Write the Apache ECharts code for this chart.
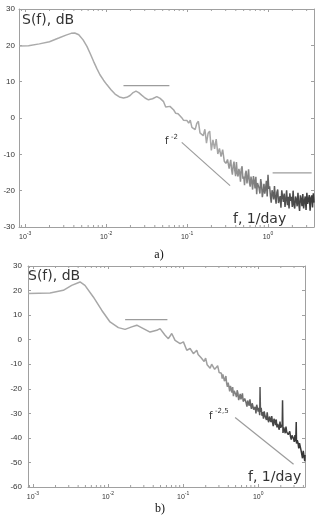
<!DOCTYPE html>
<html>
<head>
<meta charset="utf-8">
<script src="https://cdn.jsdelivr.net/npm/echarts@6/dist/echarts.min.js"></script>
<style>
  html, body { margin: 0; padding: 0; background: #fff; }
  #main { width: 324px; height: 519px; }
</style>
</head>
<body>
<div id="main"></div>
<script>
// spectrum a): [f (1/day), S (dB)]
const specA = [
  [0.00084, 19.8], [0.0011, 19.9], [0.0015, 20.4], [0.002, 21.0], [0.0026, 22.0], [0.0032, 22.8],
  [0.0037, 23.3], [0.0041, 23.4], [0.0046, 22.9], [0.0052, 21.5], [0.0058, 19.7], [0.0064, 17.6],
  [0.007, 15.6], [0.0077, 13.6], [0.0084, 11.9], [0.0093, 10.4], [0.0102, 9.2], [0.0115, 7.8],
  [0.0129, 6.6], [0.0146, 5.8], [0.0164, 5.5], [0.018, 5.7], [0.0198, 6.2], [0.0216, 7.0],
  [0.0234, 7.4], [0.0253, 7.0], [0.0275, 6.3], [0.0303, 5.5], [0.0333, 5.0], [0.0375, 5.3],
  [0.0423, 5.9], [0.0465, 5.4], [0.0513, 4.5], [0.0545, 3.0], [0.0575, 2.6], [0.0615, 3.2],
  [0.0646, 3.3], [0.0685, 2.2], [0.0725, 1.3], [0.0775, 1.2], [0.082, 1.0], [0.086, 0.1],
  [0.0902, -0.6], [0.095, -0.9],
  [0.1, -0.7], [0.1047, -1.4], [0.1096, -0.6], [0.1148, -2.6], [0.1202, -2.1], [0.1259, -3.2],
  [0.1318, -1.5], [0.138, -0.9], [0.1445, -4.1], [0.1514, -3.6], [0.1585, -4.9], [0.166, -3.1],
  [0.1738, -6.9], [0.182, -4.2], [0.1905, -3.6], [0.1995, -8.9], [0.2089, -6.0], [0.2188, -8.5],
  [0.2291, -5.8], [0.2399, -9.9], [0.2512, -8.4], [0.263, -10.6], [0.2754, -8.7], [0.2884, -11.9],
  [0.302, -12.5], [0.3162, -11.4],
  [0.3236, -11.7], [0.3311, -13.9], [0.3388, -12.6], [0.3467, -11.5], [0.3548, -14.2], [0.3631, -15.6],
  [0.3715, -13.2], [0.3802, -12.0], [0.389, -14.5], [0.3981, -16.0], [0.4074, -12.1], [0.4169, -15.2],
  [0.4266, -16.1], [0.4365, -14.0], [0.4467, -14.9], [0.4571, -17.5], [0.4677, -14.0], [0.4786, -13.3],
  [0.4898, -16.7], [0.5012, -16.1], [0.5129, -18.5], [0.5248, -15.4], [0.537, -14.5], [0.5495, -18.0],
  [0.5623, -16.5], [0.5754, -14.1], [0.5888, -17.7], [0.6026, -18.9], [0.6166, -16.1], [0.631, -17.5],
  [0.6457, -19.7], [0.6607, -16.0], [0.6761, -17.4], [0.6918, -19.4], [0.7079, -16.2], [0.7244, -21.0],
  [0.7413, -17.9], [0.7586, -17.4], [0.7762, -19.3], [0.7943, -20.8], [0.8128, -16.8], [0.8318, -18.3],
  [0.8511, -21.8], [0.871, -20.2], [0.8913, -18.1], [0.912, -20.8], [0.9333, -19.5], [0.955, -17.3],
  [0.9772, -21.6], [1.0, -15.6], [1.023, -19.5], [1.047, -18.8], [1.072, -21.5], [1.096, -23.3],
  [1.122, -19.9], [1.148, -20.8], [1.175, -22.4], [1.202, -18.7], [1.23, -21.8], [1.259, -23.6],
  [1.288, -20.4], [1.318, -19.7], [1.349, -23.4], [1.38, -22.4], [1.413, -21.5], [1.445, -24.7],
  [1.479, -19.9], [1.514, -21.6], [1.549, -23.1], [1.585, -20.8], [1.622, -24.5], [1.66, -22.4],
  [1.698, -19.9], [1.738, -24.0], [1.778, -21.7], [1.82, -24.9], [1.862, -20.7], [1.905, -22.8],
  [1.95, -21.7], [1.995, -24.5], [2.042, -20.0], [2.089, -23.9], [2.138, -24.9], [2.188, -21.6],
  [2.239, -22.5], [2.291, -24.3], [2.344, -20.6], [2.399, -23.6], [2.455, -25.6], [2.512, -21.3],
  [2.57, -22.3], [2.63, -24.3], [2.692, -20.9], [2.754, -24.9], [2.818, -22.8], [2.884, -21.6],
  [2.951, -25.3], [3.02, -20.6], [3.09, -23.6], [3.162, -24.0], [3.236, -21.2], [3.311, -25.5],
  [3.388, -22.0], [3.467, -21.3], [3.548, -24.6], [3.631, -20.7], [3.7, -23.3]
];

// spectrum b): [f (1/day), S (dB)]
const specB = [
  [0.00086, 18.8], [0.00169, 19.0], [0.00254, 20.1], [0.00328, 22.1], [0.00424, 23.5], [0.00493, 22.1],
  [0.00637, 17.4], [0.00824, 12.0], [0.01064, 7.2], [0.01374, 4.9], [0.01687, 4.2], [0.0207, 5.2],
  [0.02415, 5.9], [0.02958, 4.5], [0.03631, 3.1], [0.04457, 3.8], [0.04932, 4.5], [0.05754, 1.8],
  [0.06368, 0.4], [0.07063, 2.5], [0.07816, -0.3], [0.0912, -1.6], [0.1009, -0.9], [0.1119, -4.3],
  [0.1239, -3.6], [0.1371, -5.7], [0.152, -4.3],
  [0.1585, -6.0], [0.166, -5.3], [0.1738, -7.4], [0.182, -7.0], [0.1905, -8.9], [0.1995, -7.5],
  [0.2089, -10.2], [0.2188, -9.6], [0.2291, -11.6], [0.2399, -10.0], [0.2512, -10.8], [0.263, -12.1],
  [0.2754, -11.4], [0.2884, -10.6], [0.302, -13.4], [0.3162, -12.6],
  [0.3236, -13.7], [0.3311, -15.9], [0.3388, -14.1], [0.3467, -13.8], [0.3548, -16.9], [0.3631, -16.1],
  [0.3715, -14.8], [0.3802, -17.9], [0.389, -19.2], [0.3981, -17.5], [0.4074, -19.1], [0.4169, -21.1],
  [0.4266, -18.8], [0.4365, -20.0], [0.4467, -21.6], [0.4571, -19.3], [0.4677, -23.0], [0.4786, -20.8],
  [0.4898, -20.5], [0.5012, -22.2], [0.5129, -23.4], [0.5248, -20.6], [0.537, -21.8], [0.5495, -24.6],
  [0.5623, -23.5], [0.5754, -22.1], [0.5888, -24.3], [0.6026, -23.5], [0.6166, -21.9], [0.631, -25.2],
  [0.6457, -25.9], [0.6607, -24.0], [0.6761, -23.5], [0.6918, -25.8], [0.7079, -27.3], [0.7244, -24.8],
  [0.7413, -25.6], [0.7586, -26.9], [0.7762, -24.3], [0.7943, -26.7], [0.8128, -28.2], [0.8318, -25.9],
  [0.8511, -25.6], [0.871, -28.5], [0.8913, -27.9], [0.912, -27.4], [0.9333, -30.0], [0.955, -26.5],
  [0.9772, -27.9], [1.0, -29.3], [1.023, -27.8], [1.047, -30.8], [1.058, -19.3], [1.072, -29.4],
  [1.096, -27.8], [1.122, -31.0], [1.148, -29.5], [1.175, -32.2], [1.202, -29.2], [1.23, -31.0],
  [1.259, -30.3], [1.288, -32.7], [1.318, -29.6], [1.349, -32.6], [1.38, -33.6], [1.413, -31.3],
  [1.445, -32.1], [1.479, -33.6], [1.514, -31.1], [1.549, -33.6], [1.585, -35.2], [1.622, -32.2],
  [1.66, -33.1], [1.698, -34.8], [1.738, -32.5], [1.778, -35.7], [1.82, -34.3], [1.862, -33.7],
  [1.905, -36.7], [1.95, -33.4], [1.995, -35.9], [2.042, -36.4], [2.089, -34.5], [2.11, -24.7],
  [2.138, -38.0], [2.188, -35.7], [2.239, -35.4], [2.291, -38.1], [2.344, -35.4], [2.399, -37.6],
  [2.455, -36.9], [2.512, -38.7], [2.57, -37.9], [2.63, -37.3], [2.692, -39.5], [2.754, -40.7],
  [2.818, -39.0], [2.884, -38.3], [2.951, -40.3], [3.02, -41.6], [3.09, -38.9], [3.162, -41.4],
  [3.21, -33.5], [3.236, -42.3], [3.311, -40.9], [3.388, -42.0], [3.467, -44.3], [3.548, -42.1],
  [3.631, -42.0], [3.715, -45.0], [3.802, -44.9], [3.89, -48.3], [3.981, -45.3], [4.074, -44.9],
  [4.169, -49.5], [4.2, -47.0]
];

// reference segments
const flatA1 = [[0.0164, 8.9], [0.0605, 8.9]];
const flatA2 = [[1.14, -15.1], [3.46, -15.1]];
const slopeA = [[0.086, -6.7], [0.34, -18.6]];
const flatB = [[0.0169, 8.2], [0.0618, 8.2]];
const slopeB = [[0.493, -31.7], [2.96, -50.7]];

// axis ranges
const xRangeA = [0.00084, 3.7];
const xRangeB = [0.00086, 4.2];
const yRangeA = [-30, 30];
const yRangeB = [-60, 30];

// minor ticks of the log axis (2..9 in every decade)
const minorMult = [2, 3, 4, 5, 6, 7, 8, 9];
const decades = [0.0001, 0.001, 0.01, 0.1, 1];
function minorTicks(range) {
  const out = [];
  decades.forEach(d => minorMult.forEach(m => {
    const v = m * d;
    if (v > range[0] && v < range[1]) out.push([v, 0]);
  }));
  return out;
}

const axisCol = '#a0a0a0';
const labelCol = '#333';
const chart = echarts.init(document.getElementById('main'));

function decadeLabel(v) {
  const e = Math.round(Math.log10(v));
  if (Math.abs(v / Math.pow(10, e) - 1) > 1e-6) return '';
  return '{b|10}{s|' + e + '}';
}

const labelRich = {
  b: { fontSize: 7, color: labelCol, fontFamily: 'Liberation Sans', verticalAlign: 'bottom', lineHeight: 10 },
  s: { fontSize: 5, color: labelCol, fontFamily: 'Liberation Sans', verticalAlign: 'top', lineHeight: 10 }
};

function xAxes(grid, range) {
  const base = {
    type: 'log', logBase: 10, gridIndex: grid, min: range[0], max: range[1],
    axisLine: { show: true, onZero: false, lineStyle: { color: axisCol, width: 1 } },
    axisTick: { show: true, inside: true, length: 3, lineStyle: { color: axisCol } },
    splitLine: { show: false }
  };
  return [
    Object.assign({}, base, {
      position: 'bottom',
      axisLabel: { formatter: decadeLabel, rich: labelRich, margin: 4, showMinLabel: true, showMaxLabel: true }
    }),
    Object.assign({}, base, { position: 'top', axisLabel: { show: false } })
  ];
}

function yAxes(grid, range, margin) {
  const base = {
    type: 'value', gridIndex: grid, min: range[0], max: range[1], interval: 10,
    axisLine: { show: true, onZero: false, lineStyle: { color: axisCol, width: 1 } },
    axisTick: { show: true, inside: true, length: 3, lineStyle: { color: axisCol } },
    splitLine: { show: false }
  };
  return [
    Object.assign({}, base, {
      position: 'left',
      axisLabel: { fontSize: 8, color: labelCol, fontFamily: 'Liberation Sans', margin: margin }
    }),
    Object.assign({}, base, { position: 'right', axisLabel: { show: false } })
  ];
}

function tickRenderer(params, api) {
  const x = api.coord([api.value(0), 0])[0];
  const cs = params.coordSys;
  const st = { stroke: axisCol, lineWidth: 1 };
  return {
    type: 'group',
    children: [
      { type: 'line', shape: { x1: x, y1: cs.y + cs.height, x2: x, y2: cs.y + cs.height - 2 }, style: st },
      { type: 'line', shape: { x1: x, y1: cs.y, x2: x, y2: cs.y + 2 }, style: st }
    ]
  };
}

function specColor(stops) {
  return new echarts.graphic.LinearGradient(0, 0, 1, 0, stops);
}

function segment(data, xi, yi) {
  return {
    type: 'line', data: data, xAxisIndex: xi, yAxisIndex: yi,
    showSymbol: false, silent: true,
    lineStyle: { color: '#9c9c9c', width: 1.2 }
  };
}

const textFont = 'DejaVu Sans';

chart.setOption({
  animation: false,
  backgroundColor: '#fff',
  grid: [
    { left: 19, top: 9, width: 295, height: 218 },
    { left: 28, top: 266, width: 277, height: 221 }
  ],
  xAxis: xAxes(0, xRangeA).concat(xAxes(1, xRangeB)),
  yAxis: yAxes(0, yRangeA, 4).concat(yAxes(1, yRangeB, 6)),
  series: [
    {
      type: 'line', data: specA, xAxisIndex: 0, yAxisIndex: 0,
      showSymbol: false, silent: true,
      lineStyle: {
        width: 1.5,
        color: specColor([
          { offset: 0, color: '#ababab' }, { offset: 0.66, color: '#a8a8a8' },
          { offset: 0.78, color: '#858585' }, { offset: 0.88, color: '#555' }, { offset: 1, color: '#383838' }
        ])
      }
    },
    segment(flatA1, 0, 0),
    segment(flatA2, 0, 0),
    segment(slopeA, 0, 0),
    {
      type: 'line', data: specB, xAxisIndex: 2, yAxisIndex: 2,
      showSymbol: false, silent: true,
      lineStyle: {
        width: 1.5,
        color: specColor([
          { offset: 0, color: '#ababab' }, { offset: 0.68, color: '#a0a0a0' },
          { offset: 0.78, color: '#6e6e6e' }, { offset: 0.88, color: '#464646' }, { offset: 1, color: '#333' }
        ])
      }
    },
    segment(flatB, 2, 2),
    segment(slopeB, 2, 2),
    { type: 'custom', xAxisIndex: 0, yAxisIndex: 0, data: minorTicks(xRangeA), renderItem: tickRenderer, silent: true, clip: false },
    { type: 'custom', xAxisIndex: 2, yAxisIndex: 2, data: minorTicks(xRangeB), renderItem: tickRenderer, silent: true, clip: false }
  ],
  graphic: [
    { type: 'text', x: 22, y: 20, style: { text: 'S(f), dB', fontSize: 14, fontFamily: textFont, fill: '#333', verticalAlign: 'middle' } },
    { type: 'text', x: 233, y: 219, style: { text: 'f, 1/day', fontSize: 14, fontFamily: textFont, fill: '#333', verticalAlign: 'middle' } },
    { type: 'text', x: 165, y: 141, style: { text: 'f', fontSize: 10, fontFamily: textFont, fill: '#333', verticalAlign: 'middle' } },
    { type: 'text', x: 171, y: 137, style: { text: '-2', fontSize: 7, fontFamily: textFont, fill: '#333', verticalAlign: 'middle' } },
    { type: 'text', x: 28, y: 276, style: { text: 'S(f), dB', fontSize: 14, fontFamily: textFont, fill: '#333', verticalAlign: 'middle' } },
    { type: 'text', x: 248, y: 477, style: { text: 'f, 1/day', fontSize: 14, fontFamily: textFont, fill: '#333', verticalAlign: 'middle' } },
    { type: 'text', x: 209, y: 416, style: { text: 'f', fontSize: 10, fontFamily: textFont, fill: '#333', verticalAlign: 'middle' } },
    { type: 'text', x: 215, y: 411, style: { text: '-2,5', fontSize: 7, fontFamily: textFont, fill: '#333', verticalAlign: 'middle' } },
    { type: 'text', x: 159, y: 255, style: { text: 'a)', fontSize: 12, fontFamily: 'Liberation Serif', fill: '#111', align: 'center', verticalAlign: 'middle' } },
    { type: 'text', x: 160, y: 509, style: { text: 'b)', fontSize: 12, fontFamily: 'Liberation Serif', fill: '#111', align: 'center', verticalAlign: 'middle' } }
  ]
});
</script>
</body>
</html>
